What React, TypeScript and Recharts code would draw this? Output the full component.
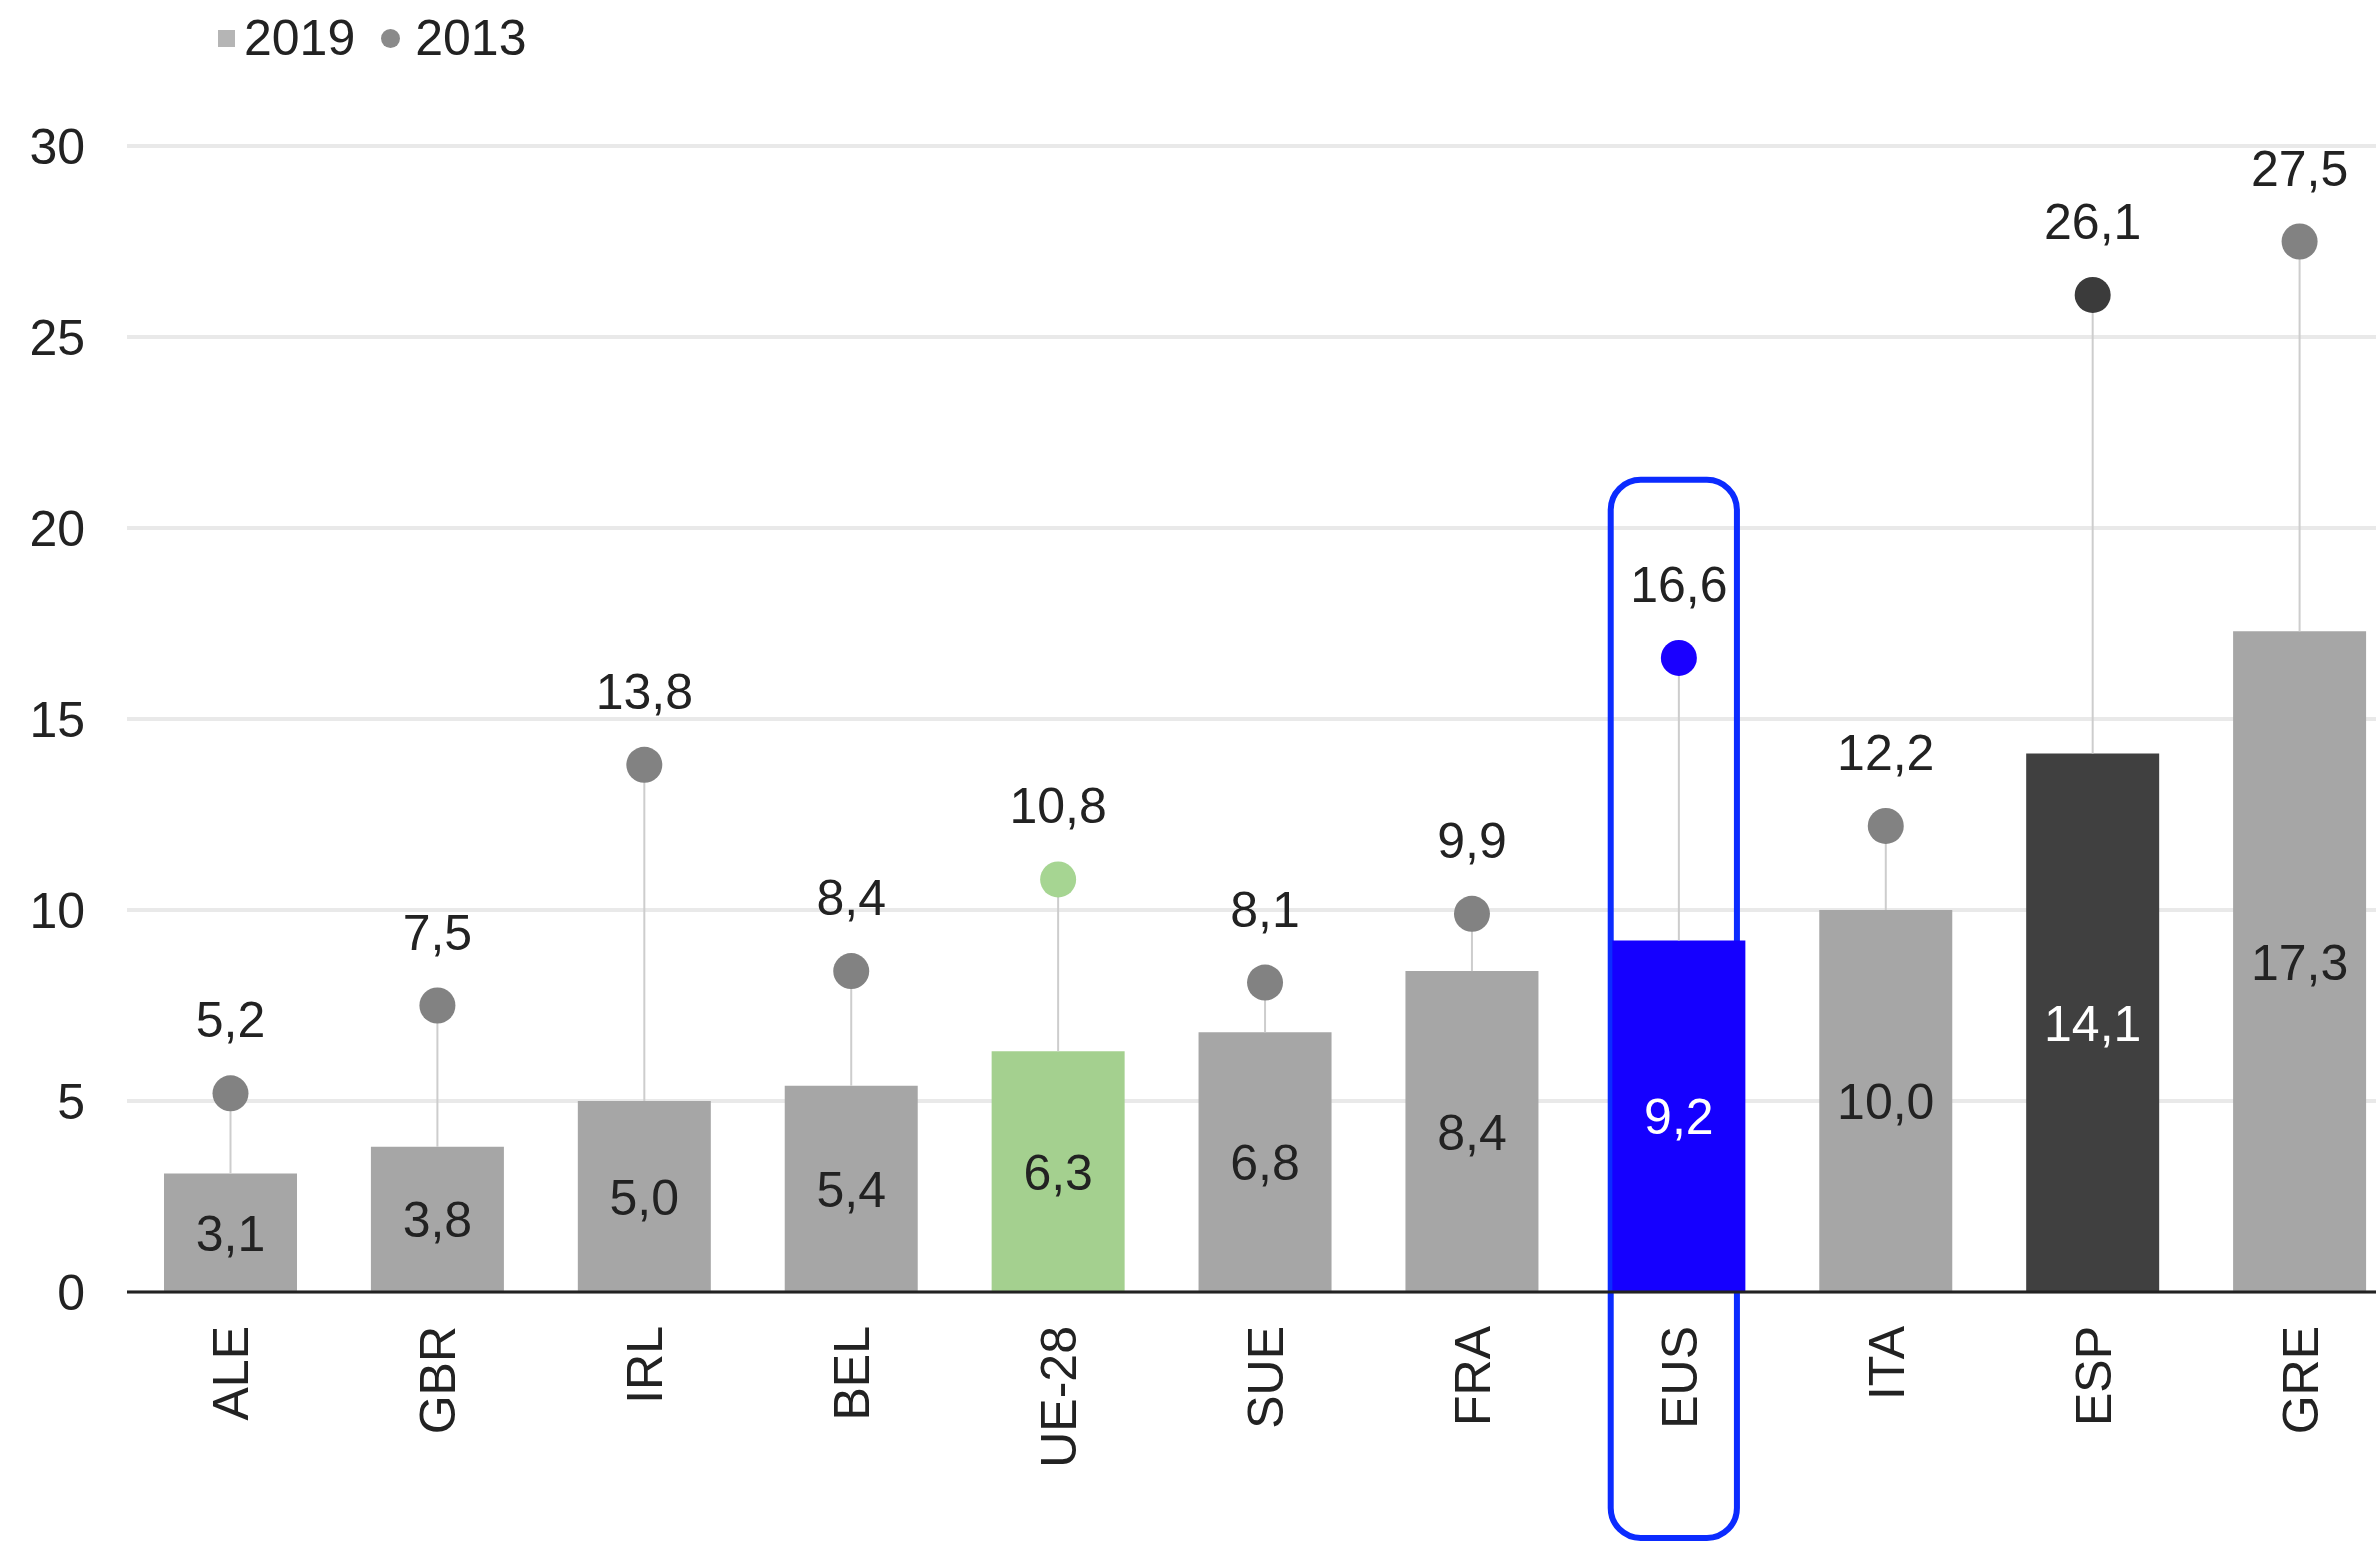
import { BarChart, Bar, XAxis, YAxis, CartesianGrid, Cell, LabelList, Legend, ReferenceArea } from 'recharts';

const categories = ['ALE', 'GBR', 'IRL', 'BEL', 'UE-28', 'SUE', 'FRA', 'EUS', 'ITA', 'ESP', 'GRE'];
const values2019 = [3.1, 3.8, 5.0, 5.4, 6.3, 6.8, 8.4, 9.2, 10.0, 14.1, 17.3];
const values2013 = [5.2, 7.5, 13.8, 8.4, 10.8, 8.1, 9.9, 16.6, 12.2, 26.1, 27.5];
const yTicks = [0, 5, 10, 15, 20, 25, 30];
const highlight = 'EUS';
const highlightSpan = [-6.44, 21.26];

const GRAY = '#a6a6a6';
const GRAY_DOT = '#828282';
const barColors: { [k: string]: string } = { 'UE-28': '#a4d08f', EUS: '#1500ff', ESP: '#404040' };
const dotColors: { [k: string]: string } = { 'UE-28': '#a6d592', EUS: '#1a00ff', ESP: '#3b3b3b' };
const whiteLabels = ['EUS', 'ESP'];

const FONT = '"Liberation Sans", Arial, Helvetica, sans-serif';
const FS = 50;

const data = categories.map((name, i) => ({
  name,
  v2019: values2019[i],
  v2013: values2013[i],
  range: [values2019[i], values2013[i]],
}));

const fmt = (v: any) => Number(v).toFixed(1).replace('.', ',');

const CategoryTick = ({ x, y, payload }: any) => {
  const ty = y + 34;
  return (
    <text x={x} y={ty} transform={`rotate(-90, ${x}, ${ty})`} textAnchor="end" dy="0.36em" fontSize={FS} fill="#222" fontFamily={FONT}>
      {payload.value}
    </text>
  );
};

const DotStem = (props: any) => {
  const { x, y, width, height, payload } = props;
  const cx = x + width / 2;
  const name = payload?.name;
  return (
    <g>
      <line x1={cx} x2={cx} y1={y} y2={y + height} stroke="#cdcdcd" strokeWidth={2} />
      <circle cx={cx} cy={y} r={18} fill={dotColors[name] || GRAY_DOT} />
    </g>
  );
};

const InsideLabel = (props: any) => {
  const { x, y, width, height, value, index } = props;
  const i = typeof index === 'number' ? index : values2019.indexOf(value);
  const name = categories[i];
  return (
    <text
      x={x + width / 2}
      y={y + height / 2}
      dy="0.36em"
      textAnchor="middle"
      fontSize={FS}
      fontFamily={FONT}
      fill={whiteLabels.includes(name) ? '#ffffff' : '#222'}
    >
      {fmt(value)}
    </text>
  );
};

const BoxShape = (props: any) => {
  const { x, y, width, height } = props;
  const w = width * 0.61;
  return (
    <rect x={x + (width - w) / 2 - 5} y={y} width={w} height={height} rx={30} ry={30} fill="none" stroke="#0b2bff" strokeWidth={6} />
  );
};

const LegendContent = () => (
  <div style={{ display: 'flex', alignItems: 'center', fontSize: FS, lineHeight: '56px', color: '#222', fontFamily: FONT }}>
    <span style={{ width: 17, height: 17, background: '#b5b5b5', marginRight: 9, display: 'inline-block' }} />
    <span>2019</span>
    <span style={{ width: 19, height: 19, borderRadius: '50%', background: '#8a8a8a', marginLeft: 26, marginRight: 15, display: 'inline-block' }} />
    <span>2013</span>
  </div>
);

export default function App() {
  return (
    <div style={{ position: 'absolute', left: 0, top: 0, width: 2376, height: 1544, overflow: 'hidden', background: '#fff', fontFamily: FONT }}>
      <BarChart width={2403} height={1544} data={data} margin={{ top: 90, right: 0, left: 0, bottom: 0 }}>
        <CartesianGrid vertical={false} stroke="#e9e9e9" strokeWidth={4} />
        <XAxis
          dataKey="name"
          height={252}
          tick={<CategoryTick />}
          tickLine={false}
          tickSize={0}
          tickMargin={0}
          interval={0}
          axisLine={{ stroke: '#222', strokeWidth: 3 }}
        />
        <XAxis dataKey="name" xAxisId="dots" hide />
        <YAxis
          width={127}
          domain={[0, 30]}
          ticks={yTicks}
          axisLine={false}
          tickLine={false}
          tickSize={0}
          tickMargin={42}
          tick={{ fontSize: FS, fill: '#222', fontFamily: FONT }}
        />
        <Legend verticalAlign="top" align="left" content={<LegendContent />} wrapperStyle={{ top: 10, left: 218, width: 'auto' }} />
        <Bar dataKey="v2019" name="2019" barSize={133} isAnimationActive={false}>
          {data.map((d) => (
            <Cell key={d.name} fill={barColors[d.name] || GRAY} />
          ))}
          <LabelList dataKey="v2019" position="center" content={<InsideLabel />} />
        </Bar>
        <Bar dataKey="range" name="2013" xAxisId="dots" barSize={133} shape={<DotStem />} isAnimationActive={false}>
          <LabelList dataKey="v2013" position="top" offset={56} formatter={fmt} fontSize={FS} fill="#222" fontFamily={FONT} />
        </Bar>
        <ReferenceArea x1={highlight} x2={highlight} y1={highlightSpan[0]} y2={highlightSpan[1]} ifOverflow="visible" shape={<BoxShape />} />
      </BarChart>
    </div>
  );
}
